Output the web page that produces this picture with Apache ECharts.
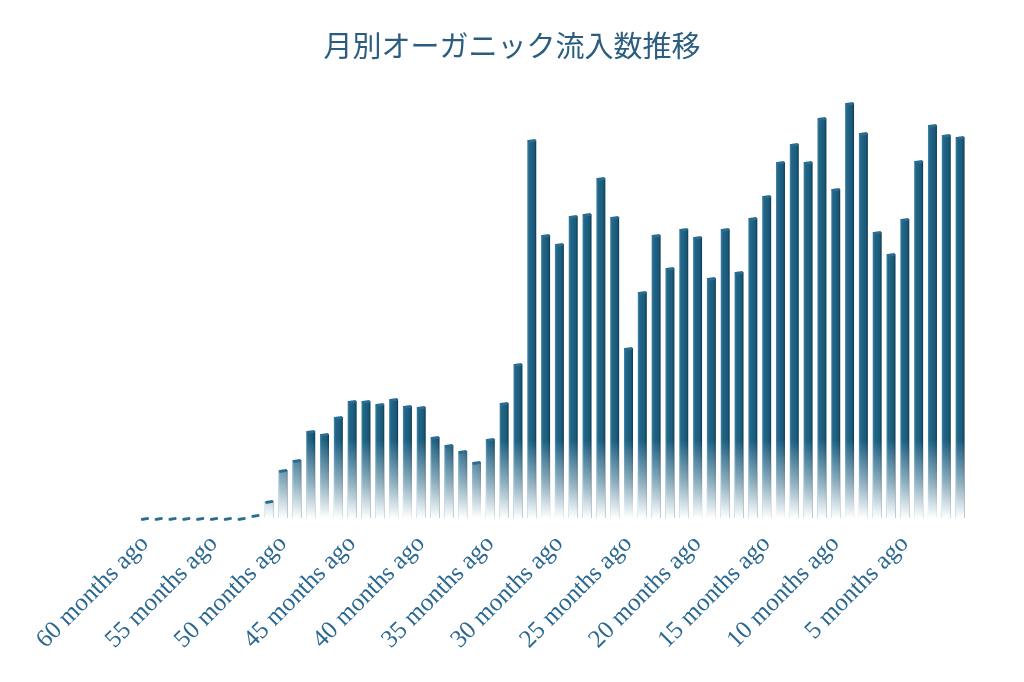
<!DOCTYPE html>
<html>
<head>
<meta charset="utf-8">
<script src="https://cdn.jsdelivr.net/npm/echarts@6/dist/echarts.min.js"></script>
<style>
  html, body { margin: 0; padding: 0; background: #fff; }
  #chart { width: 1024px; height: 682px; }
</style>
</head>
<body>
<div id="chart"></div>
<script>
// 60 months ago -> 1 month ago
var months = [];
for (var m = 60; m >= 1; m--) {
  months.push(m === 1 ? '1 month ago' : m + ' months ago');
}

// monthly organic visits
var visits = [
  0, 0, 0, 0, 0, 0, 0, 0, 30, 170,
  480, 580, 870, 840, 1010, 1170, 1170, 1140, 1190, 1120,
  1110, 810, 730, 670, 560, 790, 1150, 1540, 3780, 2830,
  2740, 3020, 3040, 3400, 3010, 1700, 2260, 2830, 2500, 2890,
  2810, 2400, 2890, 2460, 3000, 3220, 3560, 3740, 3560, 4000,
  3290, 4150, 3850, 2860, 2640, 2990, 3570, 3930, 3830, 3810
];

var titleText = '月別オーガニック流入数推移';

var myChart = echarts.init(document.getElementById('chart'));

var option = {
  backgroundColor: '#fff',
  animation: false,
  title: {
    text: titleText,
    left: 'center',
    top: 26,
    textStyle: {
      color: '#2a5d80',
      fontSize: 29,
      fontWeight: 'normal',
      fontFamily: 'Noto Sans CJK JP'
    }
  },
  grid: {
    left: 138,
    right: 57,
    top: 98,
    bottom: 164
  },
  xAxis: {
    type: 'category',
    data: months,
    axisLine: { show: false },
    axisTick: { show: false },
    axisLabel: {
      interval: 4,
      rotate: 45,
      margin: 22,
      color: '#2b6890',
      fontSize: 25,
      fontFamily: 'Liberation Serif'
    }
  },
  yAxis: {
    type: 'value',
    min: 0,
    max: 4200,
    show: false,
    splitLine: { show: false }
  },
  series: [
    {
      // bar body, lighter on the left edge
      type: 'bar',
      data: visits,
      barWidth: 9,
      barGap: '-100%',
      z: 2,
      itemStyle: {
        color: {
          type: 'linear', x: 0, y: 0, x2: 1, y2: 0,
          colorStops: [
            { offset: 0, color: '#4a8aab' },
            { offset: 0.2, color: '#226688' },
            { offset: 0.75, color: '#1a5a7a' },
            { offset: 1, color: '#0f3a52' }
          ]
        }
      }
    },
    {
      // white fade towards the baseline
      type: 'bar',
      data: visits,
      barWidth: 9,
      barGap: '-100%',
      z: 3,
      silent: true,
      itemStyle: {
        color: {
          type: 'linear', x: 0, y: 440, x2: 0, y2: 518, global: true,
          colorStops: [
            { offset: 0, color: 'rgba(255,255,255,0)' },
            { offset: 0.55, color: 'rgba(255,255,255,0.5)' },
            { offset: 1, color: 'rgba(255,255,255,1)' }
          ]
        }
      }
    },
    {
      // top caps
      type: 'pictorialBar',
      data: visits,
      symbol: 'roundRect',
      symbolSize: [8, 3],
      symbolPosition: 'end',
      symbolOffset: [0, '-20%'],
      symbolRotate: 8,
      z: 4,
      itemStyle: { color: '#2b6d8f' }
    }
  ]
};

myChart.setOption(option);
</script>
</body>
</html>
